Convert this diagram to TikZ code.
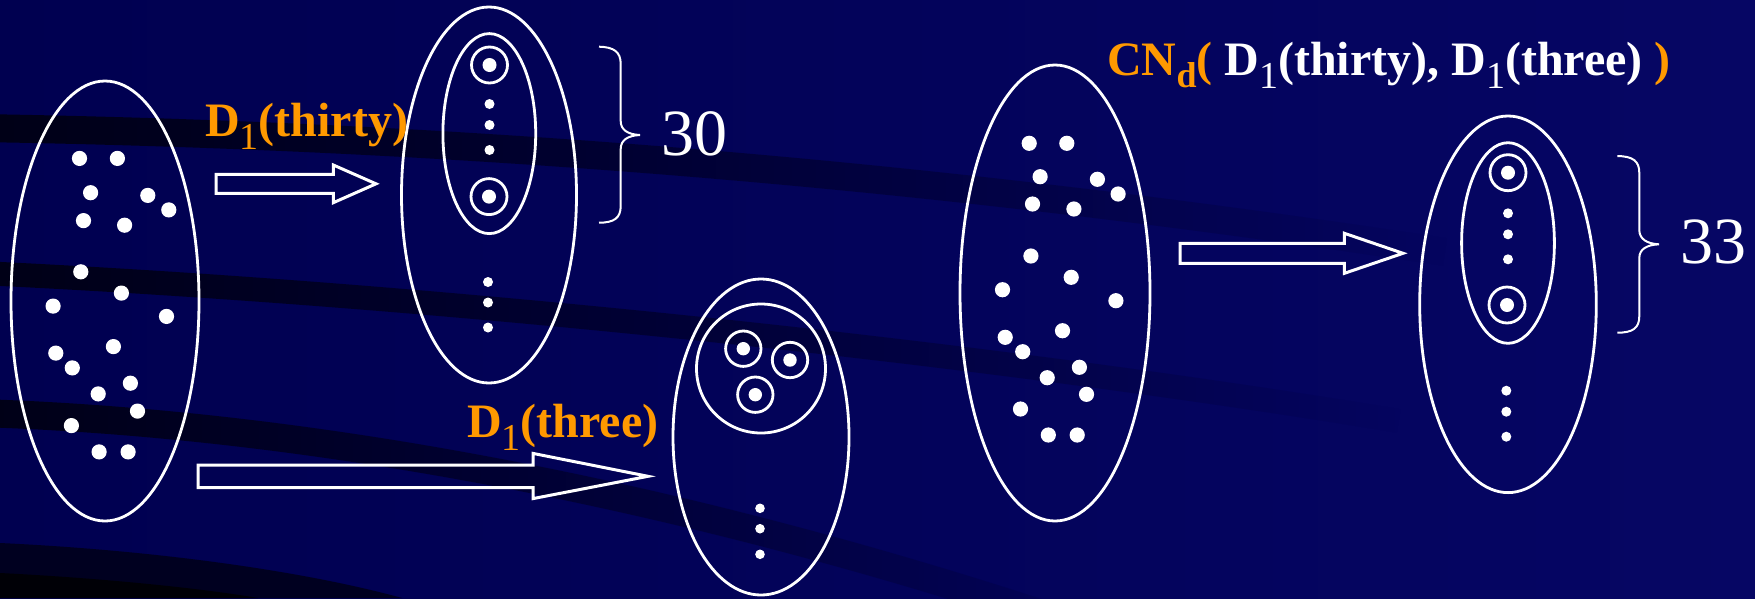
\documentclass[tikz,border=0pt]{standalone}
\usepackage{fontspec}
\setmainfont{Liberation Serif}
\usetikzlibrary{fadings}
\definecolor{bgnavy}{RGB}{0,0,80}
\definecolor{bgnavyR}{RGB}{6,6,100}
\definecolor{bandc}{RGB}{0,0,22}
\definecolor{cornerA}{RGB}{0,0,32}
\definecolor{cornerB}{RGB}{0,0,6}
\definecolor{orng}{RGB}{255,153,0}
\tikzfading[name=bandfade, left color=transparent!0, middle color=transparent!40, right color=transparent!100]
\newcommand\lblfont{\fontsize{48}{56}\selectfont\bfseries}
\newcommand\subone{\raisebox{-13pt}{\fontsize{38}{38}\selectfont\mdseries 1}}
\newcommand\subdee{\raisebox{-12pt}{\fontsize{36}{36}\selectfont\bfseries d}}
\begin{document}
\begin{tikzpicture}[x=1pt,y=-1pt,
  outl/.style={draw=white, line width=2.8pt},
  blk/.style={draw=white, line width=3pt, line join=miter},
  brc/.style={draw=white, line width=2pt},
  wdot/.style={fill=white},
  lbl/.style={anchor=base west, inner sep=0pt, font=\lblfont},
  num/.style={anchor=base west, inner sep=0pt, text=white, font=\fontsize{66}{70}\selectfont}]
\useasboundingbox (0,0) rectangle (1755,598);
% background
\shade[left color=bgnavy, right color=bgnavyR] (0,0) rectangle (1755,598);
\begin{scope}
\clip (0,0) rectangle (1755,598);
\draw[bandc, line width=28pt, path fading=bandfade] (-20,128) .. controls (480,136) and (950,176) .. (1450,252);
\draw[bandc, line width=24pt, path fading=bandfade] (-20,273) .. controls (450,295) and (1000,355) .. (1400,421);
\draw[bandc, line width=28pt, path fading=bandfade] (-20,413) .. controls (350,425) and (750,510) .. (1150,650);
\fill[cornerA] (0,543) .. controls (150,550) and (300,570) .. (402,598) -- (0,598) -- cycle;
\fill[cornerB] (0,573) .. controls (100,578) and (200,588) .. (258,598) -- (0,598) -- cycle;
\end{scope}

% left big set
\draw[outl] (105,301) ellipse [x radius=94, y radius=220];
\foreach \p in {(79.5,158.4),(117.4,158.4),(90.6,192.7),(147.8,195.4),(168.8,209.9),
  (83.5,220.6),(124.6,225.2),(80.8,271.8),(121.4,293.1),(53.1,306.1),(166.5,316.4),
  (113.4,346.6),(55.8,353.1),(72.3,367.9),(130.4,383.2),(98.2,393.9),(137.5,411.1),
  (71.4,425.6),(99.1,451.9),(128.1,451.9)}
  \fill[wdot] \p circle [radius=7.6];

% thirty set
\draw[outl] (489,195) ellipse [x radius=87.5, y radius=188];
\draw[outl] (489.3,133.6) ellipse [x radius=46.4, y radius=100];
\foreach \p in {(489.5,65),(489,196.6)} {
  \draw[outl] \p circle [radius=18];
  \fill[wdot] \p circle [radius=7];
}
\foreach \y in {104,125,150} \fill[wdot] (489.5,\y) circle [radius=5];
\foreach \y in {282,302.5,327.5} \fill[wdot] (488,\y) circle [radius=5];

% brace 30
\draw[brc] (599,46.7) .. controls (614,47) and (620.7,52) .. (620.7,64) -- (620.7,121)
  .. controls (620.7,130) and (628,134.5) .. (640,135)
  .. controls (628,135.5) and (620.7,140) .. (620.7,149) -- (620.7,206)
  .. controls (620.7,218) and (614,222.7) .. (599,222.7);
\node[num] (n30) at (661,155) {30};

% three set
\draw[outl] (761,437) ellipse [x radius=88, y radius=158];
\draw[outl] (761,368.5) circle [radius=64.5];
\foreach \p in {(743.3,348.7),(790,360),(755.3,394.7)} {
  \draw[outl] \p circle [radius=17.7];
  \fill[wdot] \p circle [radius=6.7];
}
\foreach \y in {508.3,528.7,554.3} \fill[wdot] (760,\y) circle [radius=4.8];

% arrows
\draw[blk] (216,174.3) -- (333.3,174.3) -- (333.3,165) -- (376,183.8) -- (333.3,202.7) -- (333.3,193.3) -- (216,193.3) -- cycle;
\draw[blk] (198,465) -- (533,465) -- (533,453.4) -- (648,476.3) -- (533,498.6) -- (533,487.5) -- (198,487.5) -- cycle;
\draw[blk] (1180,243.3) -- (1344.4,243.3) -- (1344.4,233.3) -- (1403,253.3) -- (1344.4,273.3) -- (1344.4,263.3) -- (1180,263.3) -- cycle;

% labels
\node[lbl, text=orng] (lthirty) at (205,136) {D\subone(thirty)};
\node[lbl, text=orng] (lthree) at (467,437) {D\subone(three)};
\node[lbl, text=white] (lcn) at (1107,75) {\textcolor{orng}{CN\subdee(} D\subone(thirty), D\subone(three) \textcolor{orng}{)}};

% right big set
\draw[outl] (1055,293) ellipse [x radius=95, y radius=228];
\foreach \p in {(1029.2,143.3),(1066.8,143.3),(1040.1,176.7),(1097.4,179.3),(1118.1,194),
  (1032.5,204),(1073.9,209),(1030.9,256),(1071.2,277.3),(1002.5,289.7),(1115.9,300.7),
  (1062.5,330.7),(1005.2,337.3),(1022.7,351.7),(1079.4,367.3),(1047.2,377.7),(1086.5,394.3),
  (1020.5,409),(1048.3,435),(1077.2,435)}
  \fill[wdot] \p circle [radius=7.6];

% thirty-three set
\draw[outl] (1508,304.3) ellipse [x radius=88.3, y radius=188.3];
\draw[outl] (1508,243) ellipse [x radius=46.4, y radius=100.3];
\foreach \p in {(1508,172.7),(1507,305)} {
  \draw[outl] \p circle [radius=18];
  \fill[wdot] \p circle [radius=7];
}
\foreach \y in {213.3,234.3,259.3} \fill[wdot] (1508,\y) circle [radius=5];
\foreach \y in {390.7,411.7,436.7} \fill[wdot] (1506.3,\y) circle [radius=5];

% brace 33
\draw[brc] (1617.3,156) .. controls (1633,156.3) and (1639.3,161) .. (1639.3,173) -- (1639.3,230)
  .. controls (1639.3,239) and (1647,243.8) .. (1659,244.3)
  .. controls (1647,244.8) and (1639.3,249) .. (1639.3,258) -- (1639.3,316)
  .. controls (1639.3,328) and (1633,332.7) .. (1617.3,332.7);
\node[num] (n33) at (1680,263) {33};
\end{tikzpicture}
\end{document}
